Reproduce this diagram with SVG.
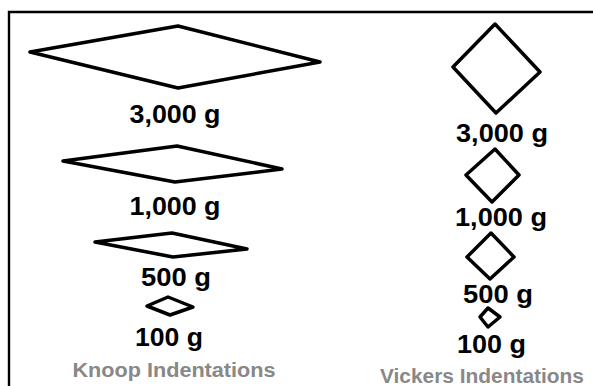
<svg xmlns="http://www.w3.org/2000/svg" width="593" height="386" viewBox="0 0 593 386">
<style>
.ind{fill:none;stroke:#000;stroke-width:3.5;stroke-linejoin:round}
.lbl{font-family:"Liberation Sans",Arial,sans-serif;font-weight:bold;font-size:26px;fill:#000;text-anchor:middle}
.ttl{font-family:"Liberation Sans",Arial,sans-serif;font-weight:bold;font-size:20px;fill:#888;text-anchor:middle}
</style>
<rect width="593" height="386" fill="#fff"/>
<path d="M9 386V12H593" fill="none" stroke="#000" stroke-width="2.4"/>
<g id="knoop-3000">
<polygon class="ind" points="30,52 178,26 320,62 178,88"/>
<text class="lbl" x="175" y="123" textLength="91" lengthAdjust="spacingAndGlyphs">3,000 g</text>
</g>
<g id="knoop-1000">
<polygon class="ind" points="63,161 177,146 282,169 175,182"/>
<text class="lbl" x="175" y="215" textLength="91" lengthAdjust="spacingAndGlyphs">1,000 g</text>
</g>
<g id="knoop-500">
<polygon class="ind" points="95,242 172,233 247,249 173,257"/>
<text class="lbl" x="176" y="286" textLength="70" lengthAdjust="spacingAndGlyphs">500 g</text>
</g>
<g id="knoop-100">
<polygon class="ind" stroke-width="3" points="147,306 168,297 193,307 170,315"/>
<text class="lbl" x="169" y="346" textLength="68" lengthAdjust="spacingAndGlyphs">100 g</text>
</g>
<g id="knoop-title">
<text class="ttl" x="174" y="377" textLength="203" lengthAdjust="spacingAndGlyphs">Knoop Indentations</text>
</g>
<g id="vickers-3000">
<polygon class="ind" points="495,24 540,72 496,113 453,67"/>
<text class="lbl" x="502" y="142" textLength="92" lengthAdjust="spacingAndGlyphs">3,000 g</text>
</g>
<g id="vickers-1000">
<polygon class="ind" points="495,149 519,175 492,202 466,175"/>
<text class="lbl" x="501" y="226" textLength="92" lengthAdjust="spacingAndGlyphs">1,000 g</text>
</g>
<g id="vickers-500">
<polygon class="ind" points="491,233 514,257 490,279 467,257"/>
<text class="lbl" x="498" y="303" textLength="70" lengthAdjust="spacingAndGlyphs">500 g</text>
</g>
<g id="vickers-100">
<polygon class="ind" stroke-width="3" points="488,308 500,317 488,327 480,317"/>
<text class="lbl" x="491.5" y="353" textLength="69" lengthAdjust="spacingAndGlyphs">100 g</text>
</g>
<g id="vickers-title">
<text class="ttl" x="482" y="383" textLength="204" lengthAdjust="spacingAndGlyphs">Vickers Indentations</text>
</g>
<g id="connectors"/>
</svg>
